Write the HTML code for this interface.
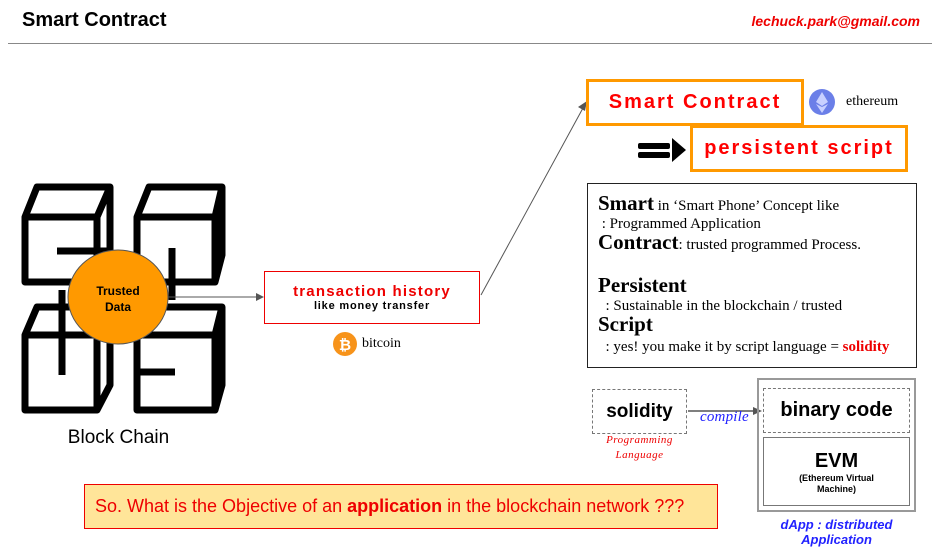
<!DOCTYPE html>
<html><head><meta charset="utf-8"><style>
body{margin:0;width:932px;height:550px;background:#fff;position:relative;overflow:hidden;font-family:"Liberation Sans",sans-serif}
.a{position:absolute}
.ser{font-family:"Liberation Serif",serif}
</style></head><body>
<div class="a" style="left:22px;top:9px;font-size:20px;font-weight:bold">Smart Contract</div>
<div class="a" style="right:12px;top:13px;font-size:14px;font-weight:bold;font-style:italic;color:#e00">lechuck.park@gmail.com</div>
<div class="a" style="left:8px;top:43px;width:924px;height:1px;background:#888"></div>

<svg class="a" style="left:0;top:0" width="932" height="550">
<g fill="none" stroke="#000" stroke-width="7" stroke-linejoin="round">
<path d="M25 217 L37 187 L110 187 L110 255 L97 282 L25 282 Z M25 217 L97 217 L110 187 M97 217 L97 282"/>
<path d="M137 217 L149 187 L222 187 L222 255 L215 282 L137 282 Z M137 217 L215 217 L222 187 M215 217 L215 282"/>
<path d="M25 335 L37 307 L110 307 L110 385 L97 410 L25 410 Z M25 335 L97 335 L110 307 M97 335 L97 410"/>
<path d="M137 335 L149 307 L222 307 L222 385 L215 410 L137 410 Z M137 335 L215 335 L222 307 M215 335 L215 410"/>
<path d="M57 251 L112 251 M172 248 L172 300 M62 290 L62 375 M137 372 L175 372"/>
</g>
<ellipse cx="118" cy="297" rx="50" ry="47" fill="#f90" stroke="#555" stroke-width="1"/>
<line x1="168" y1="297" x2="258" y2="297" stroke="#555" stroke-width="1"/>
<path d="M264 297 L256 293 L256 301Z" fill="#555"/>
<line x1="481" y1="295" x2="583" y2="108" stroke="#555" stroke-width="1"/>
<path d="M587 101 L578 107 L585 111Z" fill="#555"/>
<line x1="688" y1="411" x2="755" y2="411" stroke="#555" stroke-width="1.5"/>
<path d="M762 411 L753 407 L753 415Z" fill="#555"/>
<rect x="638" y="143" width="32" height="6" fill="#000" rx="2"/>
<rect x="638" y="152" width="32" height="6" fill="#000" rx="2"/>
<path d="M672 138 L686 150 L672 162Z" fill="#000"/>
<circle cx="822" cy="102" r="13" fill="#6b7fe8"/>
<path d="M822 92 L828 102 L822 106 L816 102Z M822 107 L828 104 L822 113 L816 104Z" fill="#c8d0ff"/>
<circle cx="345" cy="344" r="12" fill="#f7931a"/>
<text x="345" y="350" font-size="15" font-weight="bold" fill="#fff" text-anchor="middle" font-family="Liberation Sans">₿</text>
</svg>
<div class="a" style="left:68px;top:283px;width:100px;text-align:center;font-size:12px;font-weight:bold;line-height:16px">Trusted<br>Data</div>
<div class="a" style="left:0;top:427px;width:237px;text-align:center;font-size:19px">Block Chain</div>

<div class="a" style="left:264px;top:271px;width:216px;height:53px;border:1px solid #e00;box-sizing:border-box;text-align:center">
<div style="color:#e00;font-weight:bold;font-size:15px;margin-top:11px;letter-spacing:1.2px">transaction history</div>
<div style="font-weight:bold;font-size:11px;letter-spacing:0.8px">like money transfer</div></div>
<div class="a ser" style="left:362px;top:336px;font-size:14px">bitcoin</div>

<div class="a" style="left:586px;top:79px;width:218px;height:47px;border:3px solid #f90;box-sizing:border-box;color:#f00;font-weight:bold;font-size:20px;text-align:center;line-height:41px;letter-spacing:2px">Smart Contract</div>
<div class="a ser" style="left:846px;top:94px;font-size:14px">ethereum</div>
<div class="a" style="left:690px;top:125px;width:218px;height:47px;border:3px solid #f90;box-sizing:border-box;color:#f00;font-weight:bold;font-size:20px;text-align:center;line-height:41px;letter-spacing:2px">persistent script</div>

<div class="a ser" style="left:587px;top:183px;width:330px;height:185px;border:1px solid #222;box-sizing:border-box;padding:10px 0 0 10px;font-size:15px;line-height:18px">
<div><b style="font-size:21px">Smart</b> in ‘Smart Phone’ Concept like</div>
<div>&nbsp;: Programmed Application</div>
<div><b style="font-size:21px">Contract</b>: trusted programmed Process.</div>
<div style="height:22px"></div>
<div><b style="font-size:21px">Persistent</b></div>
<div>&nbsp;&nbsp;: Sustainable in the blockchain / trusted</div>
<div><b style="font-size:21px">Script</b></div>
<div style="margin-top:2px">&nbsp;&nbsp;: yes! you make it by script language = <b style="color:#e00">solidity</b></div>
</div>

<div class="a" style="left:592px;top:389px;width:95px;height:45px;border:1px dashed #777;box-sizing:border-box;text-align:center;line-height:43px;font-weight:bold;font-size:19px">solidity</div>
<div class="a ser" style="left:592px;top:433px;width:95px;text-align:center;font-size:11px;font-style:italic;color:#e00;line-height:15px;letter-spacing:0.5px">Programming<br>Language</div>
<div class="a ser" style="left:700px;top:409px;font-size:15px;font-style:italic;color:#22f;letter-spacing:0.2px">compile</div>
<div class="a" style="left:757px;top:378px;width:159px;height:134px;border:2px solid #999;box-sizing:border-box"></div>
<div class="a" style="left:763px;top:388px;width:147px;height:45px;border:1px dashed #777;box-sizing:border-box;text-align:center;line-height:43px;font-weight:bold;font-size:20px">binary code</div>
<div class="a" style="left:763px;top:437px;width:147px;height:69px;border:1px solid #777;box-sizing:border-box;text-align:center">
<div style="font-weight:bold;font-size:20px;margin-top:12px">EVM</div>
<div style="font-weight:bold;font-size:9px;line-height:11px">(Ethereum Virtual<br>Machine)</div></div>
<div class="a" style="left:757px;top:517px;width:159px;text-align:center;font-weight:bold;font-style:italic;font-size:13px;color:#22f;line-height:15px">dApp : distributed<br>Application</div>

<div class="a" style="left:84px;top:484px;width:634px;height:45px;background:#ffe599;border:1px solid #e00;box-sizing:border-box;padding-left:10px;line-height:43px;font-size:18px;color:#e00">So. What is the Objective of an <b>application</b> in the blockchain network ???</div>
</body></html>
